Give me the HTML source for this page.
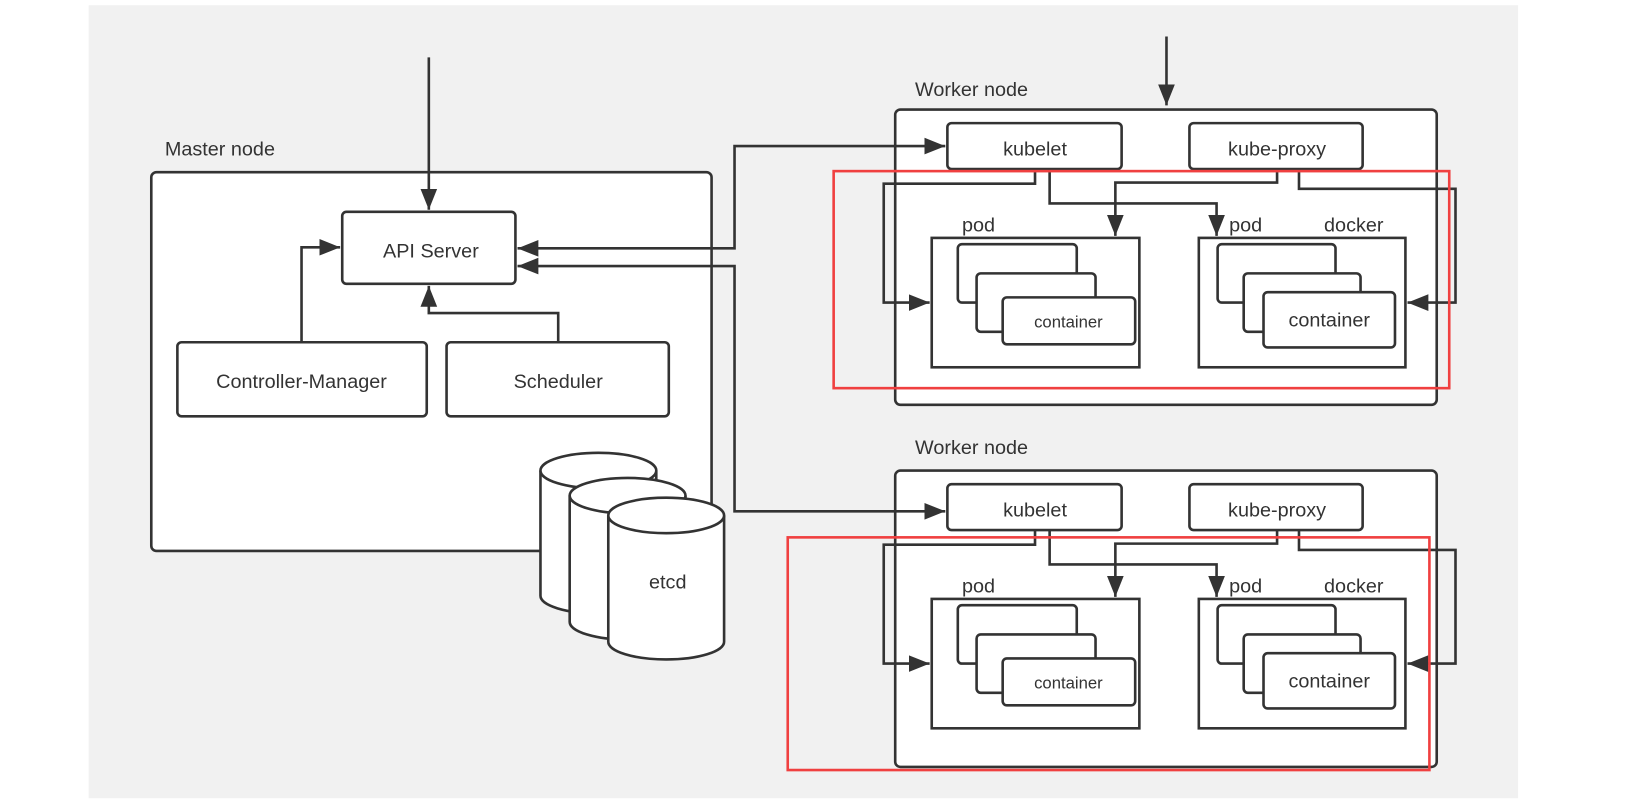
<!DOCTYPE html>
<html><head><meta charset="utf-8"><style>
html,body{margin:0;padding:0;background:#fff;}
svg{display:block;}
text{font-family:"Liberation Sans","Noto Sans CJK SC",sans-serif;fill:#333;}
</style></head><body>
<svg width="1636" height="805" viewBox="0 0 1568 771.5" preserveAspectRatio="none" xmlns="http://www.w3.org/2000/svg">
<defs>
<marker id="b" viewBox="0 0 10 10" refX="10" refY="5" markerWidth="8" markerHeight="8" orient="auto-start-reverse" markerUnits="strokeWidth">
<path d="M0,1 L10,5 L0,9 z" fill="#333"/></marker>
</defs>
<rect x="85" y="5" width="1370" height="760" fill="#f1f1f1"/>
<g stroke="#333" stroke-width="2.5" fill="none">
<rect x="145" y="165" width="537" height="363" rx="5" fill="#fff"/>
<rect x="328" y="203" width="166" height="69" rx="4" fill="#fff"/>
<rect x="170" y="328" width="239" height="71" rx="4" fill="#fff"/>
<rect x="428" y="328" width="213" height="71" rx="4" fill="#fff"/>
<path d="M411,55 V201" marker-end="url(#b)"/>
<path d="M289,328 V237 H326" marker-end="url(#b)"/>
<path d="M535,328 V300 H411 V274" marker-end="url(#b)"/>
<g fill="#fff">
<path d="M518,451 V571 A55.5,17 0 0 0 629,571 V451"/><ellipse cx="573.5" cy="451" rx="55.5" ry="17"/>
<path d="M546,475 V596 A55.5,17 0 0 0 657,596 V475"/><ellipse cx="601.5" cy="475" rx="55.5" ry="17"/>
<path d="M583,494 V615 A55.5,17 0 0 0 694,615 V494"/><ellipse cx="638.5" cy="494" rx="55.5" ry="17"/>
</g>
<path d="M1118,35 V101" marker-end="url(#b)"/>
</g>
<text x="158" y="149" font-size="19">Master node</text>
<text x="413" y="247" font-size="19" text-anchor="middle">API Server</text>
<text x="289" y="372" font-size="19" text-anchor="middle">Controller-Manager</text>
<text x="535" y="372" font-size="19" text-anchor="middle">Scheduler</text>
<text x="640" y="564" font-size="19" text-anchor="middle">etcd</text>

<g>
<g stroke="#333" stroke-width="2.5" fill="none">
<rect x="858" y="105" width="519" height="283" rx="5" fill="#fff"/>
<rect x="908" y="118" width="167" height="44" rx="4" fill="#fff"/>
<rect x="1140" y="118" width="166" height="44" rx="4" fill="#fff"/>
<rect x="893" y="228" width="199" height="124" fill="#fff"/>
<rect x="918" y="234" width="114" height="56" rx="4" fill="#fff"/>
<rect x="936" y="262" width="114" height="56" rx="4" fill="#fff"/>
<rect x="961" y="285" width="127" height="45" rx="4" fill="#fff"/>
<rect x="1149" y="228" width="198" height="124" fill="#fff"/>
<rect x="1167" y="234" width="113" height="56" rx="4" fill="#fff"/>
<rect x="1192" y="262" width="112" height="56" rx="4" fill="#fff"/>
<rect x="1211" y="280" width="126" height="53" rx="4" fill="#fff"/>
<path d="M992,162 V176 H847 V290 H891" marker-end="url(#b)"/>
<path d="M1006,162 V195 H1166 V226" marker-end="url(#b)"/>
<path d="M1224,162 V175 H1069 V226" marker-end="url(#b)"/>
<path d="M1245,162 V181 H1395 V290 H1349" marker-end="url(#b)"/>
</g>
<text x="877" y="92" font-size="19">Worker node</text>
<text x="992" y="149" font-size="19" text-anchor="middle">kubelet</text>
<text x="1224" y="149" font-size="19" text-anchor="middle">kube-proxy</text>
<text x="922" y="222" font-size="19">pod</text>
<text x="1178" y="222" font-size="19">pod</text>
<text x="1269" y="222" font-size="19">docker</text>
<text x="1024" y="314" font-size="16" text-anchor="middle">container</text>
<text x="1274" y="313" font-size="19" text-anchor="middle">container</text>
</g>
<rect x="799" y="164" width="590" height="208" fill="none" stroke="#f04040" stroke-width="2.5"/>

<g transform="translate(0,346)">
<g stroke="#333" stroke-width="2.5" fill="none">
<rect x="858" y="105" width="519" height="284" rx="5" fill="#fff"/>
<rect x="908" y="118" width="167" height="44" rx="4" fill="#fff"/>
<rect x="1140" y="118" width="166" height="44" rx="4" fill="#fff"/>
<rect x="893" y="228" width="199" height="124" fill="#fff"/>
<rect x="918" y="234" width="114" height="56" rx="4" fill="#fff"/>
<rect x="936" y="262" width="114" height="56" rx="4" fill="#fff"/>
<rect x="961" y="285" width="127" height="45" rx="4" fill="#fff"/>
<rect x="1149" y="228" width="198" height="124" fill="#fff"/>
<rect x="1167" y="234" width="113" height="56" rx="4" fill="#fff"/>
<rect x="1192" y="262" width="112" height="56" rx="4" fill="#fff"/>
<rect x="1211" y="280" width="126" height="53" rx="4" fill="#fff"/>
<path d="M992,162 V176 H847 V290 H891" marker-end="url(#b)"/>
<path d="M1006,162 V195 H1166 V226" marker-end="url(#b)"/>
<path d="M1224,162 V175 H1069 V226" marker-end="url(#b)"/>
<path d="M1245,162 V181 H1395 V290 H1349" marker-end="url(#b)"/>
</g>
<text x="877" y="89" font-size="19">Worker node</text>
<text x="992" y="149" font-size="19" text-anchor="middle">kubelet</text>
<text x="1224" y="149" font-size="19" text-anchor="middle">kube-proxy</text>
<text x="922" y="222" font-size="19">pod</text>
<text x="1178" y="222" font-size="19">pod</text>
<text x="1269" y="222" font-size="19">docker</text>
<text x="1024" y="314" font-size="16" text-anchor="middle">container</text>
<text x="1274" y="313" font-size="19" text-anchor="middle">container</text>
</g>
<rect x="755" y="515" width="615" height="223" fill="none" stroke="#f04040" stroke-width="2.5"/>

<g stroke="#333" stroke-width="2.5" fill="none">
<path d="M906,140 H704 V238 H496" marker-start="url(#b)" marker-end="url(#b)"/>
<path d="M496,255 H704 V490 H906" marker-start="url(#b)" marker-end="url(#b)"/>
</g>
</svg>
</body></html>
